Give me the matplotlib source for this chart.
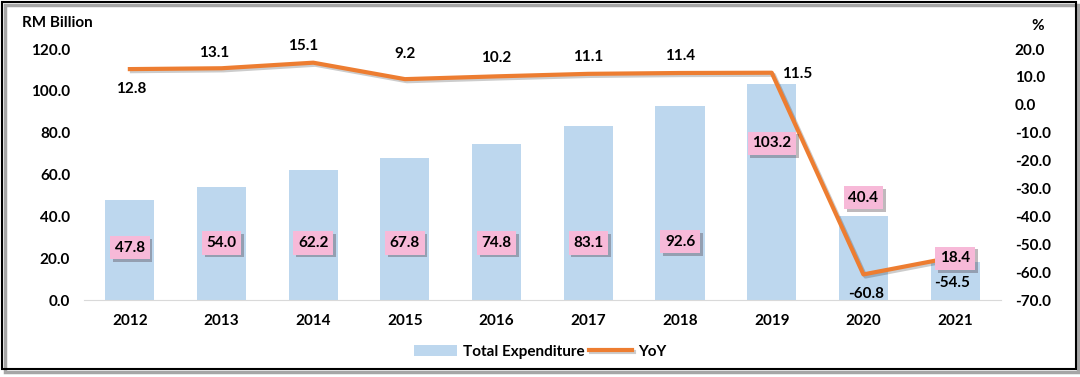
import matplotlib.pyplot as plt
import matplotlib.patheffects as pe
from matplotlib.patches import Rectangle
import numpy as np

years = ['2012', '2013', '2014', '2015', '2016', '2017', '2018', '2019', '2020', '2021']
expenditure = [47.8, 54.0, 62.2, 67.8, 74.8, 83.1, 92.6, 103.2, 40.4, 18.4]
yoy = [12.8, 13.1, 15.1, 9.2, 10.2, 11.1, 11.4, 11.5, -60.8, -54.5]

plt.rcParams['font.family'] = ['Lato', 'DejaVu Sans']
plt.rcParams['font.weight'] = 'bold'
fs = 11

fig = plt.figure(figsize=(10.8, 3.77), dpi=100)
ax1 = fig.add_axes([0.0778, 0.204, 0.849, 0.666])
ax2 = ax1.twinx()

x = np.arange(len(years))
bar_color = '#BDD7EE'
line_color = '#ED7D31'

ax1.bar(x, expenditure, 0.535, color=bar_color, label='Total Expenditure', zorder=1)
ax1.set_ylim(0, 120)
ax1.set_xlim(-0.5, len(years) - 0.5)
ax1.set_yticks(np.arange(0, 121, 20))
ax1.set_yticklabels([f'{v:.1f}' for v in np.arange(0, 121, 20)])
ax1.set_xticks(x)
ax1.set_xticklabels(years)

ax2.plot(x, yoy, color=line_color, linewidth=3, label='YoY', zorder=3,
         path_effects=[pe.SimpleLineShadow(offset=(1.5, -1.5), alpha=0.2), pe.Normal()])
ax2.set_ylim(-70, 20)
ax2.set_yticks(np.arange(-70, 21, 10))
ax2.set_yticklabels([f'{v:.1f}' for v in np.arange(-70, 21, 10)])

for ax in (ax1, ax2):
    for s in ['top', 'left', 'right']:
        ax.spines[s].set_visible(False)
    ax.spines['bottom'].set_color('#D9D9D9')
    ax.tick_params(length=0, labelsize=fs)
ax1.tick_params(axis='x', pad=10)
ax1.tick_params(axis='y', pad=10)
ax2.tick_params(axis='y', pad=10)
ax2.spines['bottom'].set_visible(False)

# bar value labels in pink boxes, drawn on ax2 so they sit above the line
bar_label_y = [25, 27.3, 27.3, 27.3, 27.3, 27.3, 28, 75, 49, 20]
for xi, v, ly in zip(x, expenditure, bar_label_y):
    ax2.text(xi, ly, f'{v:.1f}', ha='center', va='center', fontsize=fs, fontweight='bold',
             zorder=5, transform=ax1.transData,
             bbox=dict(boxstyle='square,pad=0.3', facecolor='#F7B9D8', edgecolor='none',
                       path_effects=[pe.SimplePatchShadow(offset=(2, -2), alpha=0.35), pe.Normal()]))

# line value labels (offsets in points)
yoy_offsets = [(1, -14), (-5, 11), (-7, 12), (0, 18), (0, 13), (0, 12), (0, 12), (18, -1), (2, -14), (-2, -19)]
for xi, v, (dx, dy) in zip(x, yoy, yoy_offsets):
    ax2.annotate(f'{v:.1f}', (xi, v), xytext=(dx, dy), textcoords='offset points',
                 ha='center', va='center', fontsize=fs, fontweight='bold', zorder=6)

fig.text(0.02, 0.94, 'RM Billion', fontsize=fs, fontweight='bold', ha='left', va='center')
fig.text(0.961, 0.932, '%', fontsize=fs, fontweight='bold', ha='center', va='center')

h1, l1 = ax1.get_legend_handles_labels()
h2, l2 = ax2.get_legend_handles_labels()
fig.legend(h1 + h2, l1 + l2, loc='center', bbox_to_anchor=(0.5, 0.067), ncol=2, frameon=False,
           fontsize=fs, handlelength=2.8, handletextpad=0.4, columnspacing=0.3)

# outer frame with shadow
fig.patches.append(Rectangle((0.0045, 0.012), 0.994, 0.976, transform=fig.transFigure,
                             facecolor='none', edgecolor='#A6A6A6', linewidth=2.5, zorder=0))
fig.patches.append(Rectangle((0.002, 0.022), 0.994, 0.974, transform=fig.transFigure,
                             facecolor='none', edgecolor='black', linewidth=1.5, zorder=1))

fig.savefig('out.png', dpi=100)
